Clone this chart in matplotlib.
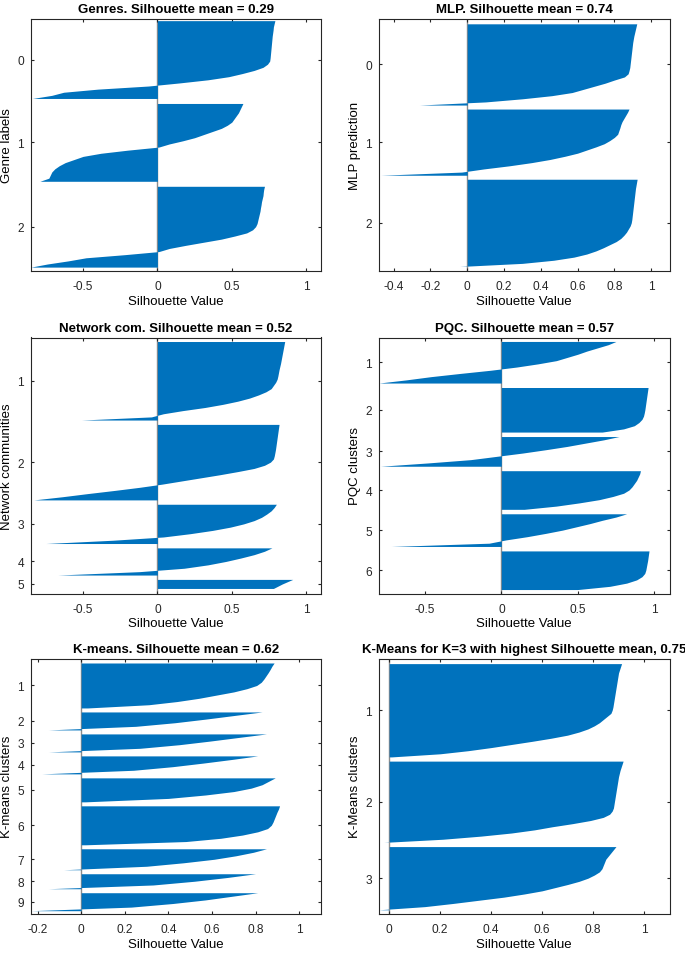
import numpy as np
import matplotlib
matplotlib.use('Agg')
import matplotlib.pyplot as plt

plt.rcParams['font.family'] = ['Liberation Sans', 'DejaVu Sans']
plt.rcParams['axes.unicode_minus'] = False

BLUE = '#0072BD'
AXIS = '#262626'

# silhouette values of each cluster, sorted descending
genres = [
    [0.79, 0.785, 0.78, 0.778, 0.775, 0.772, 0.77, 0.768, 0.766, 0.764, 0.762, 0.76, 0.758,
     0.755, 0.74, 0.71, 0.65, 0.57, 0.48, 0.34, 0.15, -0.06, -0.40, -0.63, -0.71, -0.84],
    [0.575, 0.565, 0.555, 0.545, 0.53, 0.515, 0.50, 0.47, 0.43, 0.37, 0.31, 0.25, 0.17, 0.08,
     0.01, -0.20, -0.38, -0.50, -0.56, -0.62, -0.66, -0.69, -0.71, -0.72, -0.73, -0.79],
    [0.72, 0.715, 0.712, 0.71, 0.705, 0.70, 0.697, 0.693, 0.69, 0.685, 0.68, 0.675, 0.67, 0.66,
     0.64, 0.60, 0.52, 0.43, 0.31, 0.19, 0.08, 0.01, -0.22, -0.48, -0.60, -0.74, -0.85],
]
genre_names = ['0', '1', '2']

mlp = [
    [0.922, 0.918, 0.914, 0.91, 0.906, 0.903, 0.90, 0.898, 0.896, 0.894, 0.892, 0.89, 0.888,
     0.886, 0.884, 0.88, 0.875, 0.855, 0.80, 0.75, 0.69, 0.63, 0.57, 0.46, 0.30, 0.10, -0.26],
    [0.88, 0.872, 0.862, 0.852, 0.842, 0.835, 0.83, 0.824, 0.818, 0.80, 0.775, 0.745, 0.70,
     0.65, 0.60, 0.53, 0.45, 0.35, 0.23, 0.09, -0.03, -0.47],
    [0.924, 0.921, 0.918, 0.915, 0.913, 0.911, 0.909, 0.907, 0.905, 0.903, 0.901, 0.899, 0.897,
     0.895, 0.892, 0.886, 0.876, 0.866, 0.852, 0.835, 0.81, 0.775, 0.74, 0.70, 0.65, 0.58,
     0.47, 0.30, -0.04],
]
mlp_names = ['0', '1', '2']

network = [
    [0.856, 0.852, 0.848, 0.844, 0.84, 0.836, 0.832, 0.828, 0.823, 0.818, 0.814, 0.81, 0.805,
     0.795, 0.78, 0.765, 0.73, 0.68, 0.62, 0.54, 0.44, 0.32, 0.17, 0.04, -0.04, -0.51],
    [0.818, 0.815, 0.812, 0.809, 0.806, 0.803, 0.80, 0.797, 0.794, 0.79, 0.786, 0.78, 0.76,
     0.72, 0.65, 0.54, 0.42, 0.29, 0.16, 0.03, -0.12, -0.29, -0.47, -0.64, -0.83],
    [0.80, 0.785, 0.765, 0.735, 0.70, 0.65, 0.58, 0.49, 0.37, 0.22, 0.04, -0.30, -0.75],
    [0.77, 0.72, 0.65, 0.56, 0.46, 0.34, 0.18, -0.12, -0.67],
    [0.91, 0.84, 0.78],
]
network_names = ['1', '2', '3', '4', '5']

pqc = [
    [0.75, 0.70, 0.63, 0.56, 0.50, 0.43, 0.36, 0.24, 0.10, -0.07, -0.27, -0.46, -0.62, -0.80],
    [0.96, 0.957, 0.954, 0.951, 0.948, 0.945, 0.942, 0.939, 0.935, 0.93, 0.92, 0.90, 0.87,
     0.80, 0.66],
    [0.77, 0.67, 0.55, 0.43, 0.29, 0.14, -0.03, -0.20, -0.48, -0.79],
    [0.91, 0.905, 0.895, 0.885, 0.87, 0.855, 0.835, 0.80, 0.73, 0.64, 0.51, 0.36, 0.15],
    [0.82, 0.75, 0.66, 0.58, 0.49, 0.40, 0.29, 0.17, 0.03, -0.08, -0.72],
    [0.966, 0.963, 0.96, 0.957, 0.953, 0.949, 0.945, 0.938, 0.92, 0.885, 0.82, 0.71, 0.50],
]
pqc_names = ['1', '2', '3', '4', '5', '6']

kmeans = [
    [0.885, 0.875, 0.867, 0.858, 0.848, 0.838, 0.826, 0.805, 0.76, 0.70, 0.62, 0.54, 0.44,
     0.31, 0.03],
    [0.83, 0.70, 0.57, 0.43, 0.25, -0.15],
    [0.85, 0.72, 0.59, 0.45, 0.27, -0.15],
    [0.81, 0.69, 0.56, 0.42, 0.24, -0.18],
    [0.89, 0.86, 0.83, 0.78, 0.70, 0.57, 0.40, 0.02],
    [0.91, 0.905, 0.898, 0.892, 0.886, 0.88, 0.872, 0.855, 0.81, 0.74, 0.64, 0.48, 0.02],
    [0.85, 0.79, 0.71, 0.61, 0.47, 0.30, -0.08],
    [0.80, 0.67, 0.52, 0.33, -0.15],
    [0.81, 0.69, 0.57, 0.42, 0.23, -0.23],
]
kmeans_names = ['1', '2', '3', '4', '5', '6', '7', '8', '9']

kmeans3 = [
    [0.912, 0.908, 0.904, 0.90, 0.898, 0.896, 0.894, 0.892, 0.89, 0.888, 0.886, 0.884, 0.882,
     0.88, 0.878, 0.875, 0.87, 0.855, 0.84, 0.825, 0.805, 0.78, 0.745, 0.70, 0.635, 0.56, 0.48,
     0.40, 0.31, 0.20, 0.01],
    [0.918, 0.914, 0.91, 0.906, 0.903, 0.90, 0.898, 0.896, 0.894, 0.892, 0.89, 0.888, 0.886,
     0.884, 0.882, 0.88, 0.875, 0.865, 0.84, 0.79, 0.72, 0.64, 0.57, 0.48, 0.36, 0.21, -0.02],
    [0.89, 0.88, 0.87, 0.86, 0.85, 0.845, 0.84, 0.835, 0.825, 0.805, 0.78, 0.745, 0.70, 0.65,
     0.60, 0.53, 0.45, 0.35, 0.25, 0.14, -0.04],
]
kmeans3_names = ['1', '2', '3']


def rect(left, top, right, bottom):
    # pixel box -> figure fraction
    return [left / 685, 1 - bottom / 954, (right - left) / 685, (bottom - top) / 954]


def silhouette(ax, clusters, names, gap, pad_top, pad_bot, xlim, xticks, title, ylabel):
    centers = []
    start = 0.0
    for vals in clusters:
        n = len(vals)
        # spread the samples over the cluster's slot, top edge to bottom edge
        ypos = start - 0.5 + np.arange(n) * n / (n - 1)
        ax.fill_betweenx(ypos, 0, vals, color=BLUE, lw=0, zorder=2)
        centers.append(start + (n - 1) / 2)
        start += n + gap
    last = start - gap - 0.5
    ax.axvline(0, color='#8c8c8c', lw=1.0, zorder=1)
    ax.set_ylim(last + pad_bot, -0.5 - pad_top)
    ax.set_xlim(*xlim)
    ax.set_yticks(centers)
    ax.set_yticklabels(names)
    ax.set_xticks(xticks)
    ax.set_xticklabels(['%g' % t for t in xticks])
    ax.tick_params(direction='in', top=True, right=True, length=2.5, width=0.8,
                   colors=AXIS, labelsize=8.6)
    ax.tick_params(axis='x', pad=6.5)
    ax.tick_params(axis='y', pad=5)
    for s in ax.spines.values():
        s.set_color(AXIS)
        s.set_linewidth(0.8)
    ax.set_title(title, fontsize=9.5, fontweight='bold', pad=5)
    ax.set_xlabel('Silhouette Value', fontsize=9.5, labelpad=2)
    ax.set_ylabel(ylabel, fontsize=9.5, labelpad=3)


fig = plt.figure(figsize=(6.85, 9.54), dpi=100)

ax1 = fig.add_axes(rect(31, 20, 321, 272))
silhouette(ax1, genres, genre_names, 1.67, 0.55, 1.3, (-0.85, 1.1), [-0.5, 0, 0.5, 1],
           'Genres. Silhouette mean = 0.29', 'Genre labels')

ax2 = fig.add_axes(rect(379, 20, 669.5, 272))
silhouette(ax2, mlp, mlp_names, 1.33, 1.6, 1.5, (-0.48, 1.1),
           [-0.4, -0.2, 0, 0.2, 0.4, 0.6, 0.8, 1],
           'MLP. Silhouette mean = 0.74', 'MLP prediction')

ax3 = fig.add_axes(rect(31, 338.5, 321, 594.5))
silhouette(ax3, network, network_names, 1.44, 1.33, 1.67, (-0.85, 1.1), [-0.5, 0, 0.5, 1],
           'Network com. Silhouette mean = 0.52', 'Network communities')

ax4 = fig.add_axes(rect(379, 338.5, 669.5, 594.5))
silhouette(ax4, pqc, pqc_names, 1.5, 1.33, 1.33, (-0.8, 1.1), [-0.5, 0, 0.5, 1],
           'PQC. Silhouette mean = 0.57', 'PQC clusters')

ax5 = fig.add_axes(rect(31, 659.5, 321, 915))
silhouette(ax5, kmeans, kmeans_names, 1.33, 1.5, 1.1, (-0.23, 1.1),
           [-0.2, 0, 0.2, 0.4, 0.6, 0.8, 1],
           'K-means. Silhouette mean = 0.62', 'K-means clusters')

ax6 = fig.add_axes(rect(379, 659.5, 669.5, 915))
silhouette(ax6, kmeans3, kmeans3_names, 1.4, 1.7, 1.4, (-0.04, 1.1),
           [0, 0.2, 0.4, 0.6, 0.8, 1],
           'K-Means for K=3 with highest Silhouette mean, 0.75', 'K-Means clusters')

fig.savefig('out.png', dpi=100)
